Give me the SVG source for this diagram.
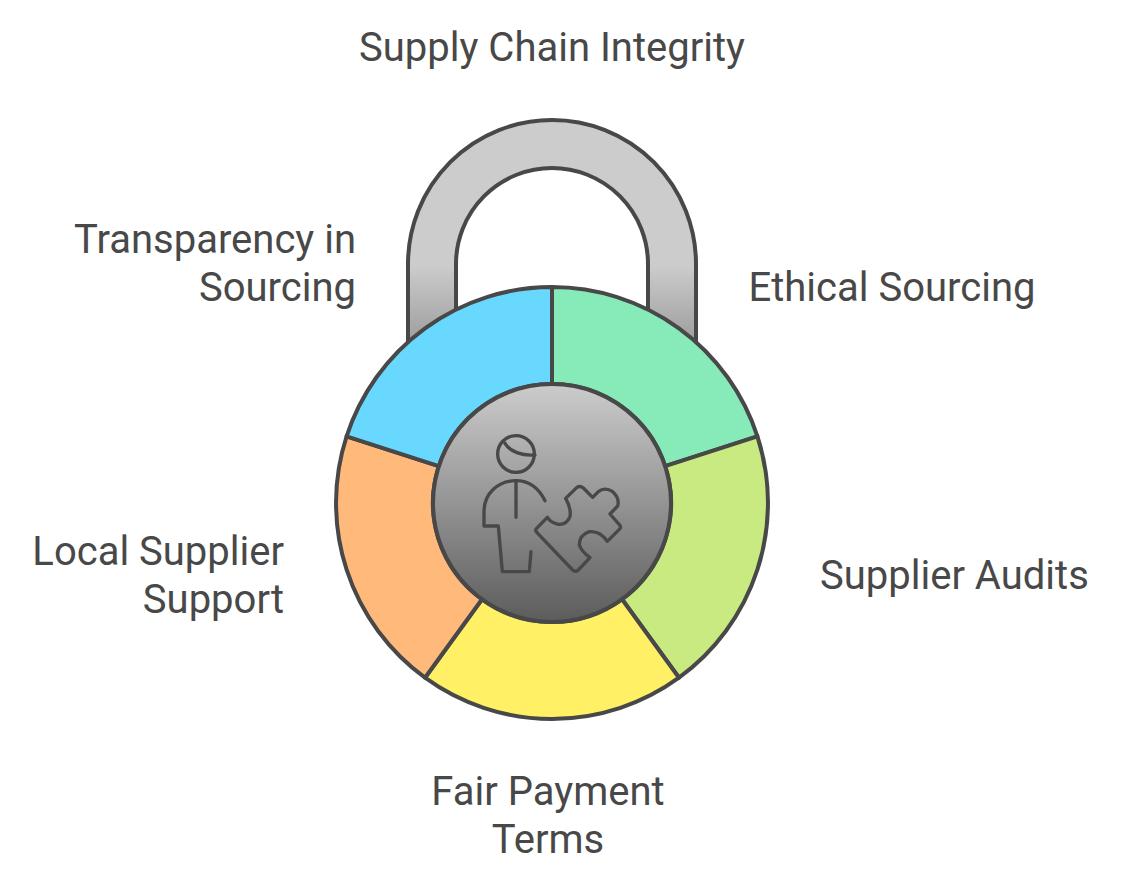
<svg xmlns="http://www.w3.org/2000/svg" width="1128" height="889" viewBox="0 0 1128 889">
<style>
.o{stroke:#484848;stroke-width:4;stroke-linejoin:round;stroke-linecap:round}
.t{font-family:Roboto,"Liberation Sans",sans-serif;font-size:40px;fill:#484848}
.i{fill:none;stroke:#484848;stroke-width:10;stroke-linejoin:round;stroke-linecap:round}
</style>
<defs>
<linearGradient id="sh" gradientUnits="userSpaceOnUse" x1="0" y1="120" x2="0" y2="350"><stop offset="0" stop-color="#cccccc"/><stop offset="0.63" stop-color="#cccccc"/><stop offset="1" stop-color="#999999"/></linearGradient>
<linearGradient id="hub" gradientUnits="userSpaceOnUse" x1="0" y1="384" x2="0" y2="622"><stop offset="0" stop-color="#cccccc"/><stop offset="1" stop-color="#5c5c5c"/></linearGradient>
</defs>
<g id="shackle"><path class="o" fill="url(#sh)" d="M408 345V264A144 144 0 0 1 696 264V345L648 320V264A96 96 0 0 0 456 264V320Z"/></g>
<g id="segment-ethical"><path class="o" fill="#87ebb9" d="M552 287A216 216 0 0 1 757.4 436.3L665.2 466.2A119 119 0 0 0 552 384Z"/></g>
<g id="segment-audits"><path class="o" fill="#c9e981" d="M757.4 436.3A216 216 0 0 1 679 677.7L622 599.3A119 119 0 0 0 665.2 466.2Z"/></g>
<g id="segment-payment"><path class="o" fill="#fff066" d="M679 677.7A216 216 0 0 1 425 677.7L482 599.3A119 119 0 0 0 622 599.3Z"/></g>
<g id="segment-local"><path class="o" fill="#ffb97a" d="M425 677.7A216 216 0 0 1 346.6 436.3L438.8 466.2A119 119 0 0 0 482 599.3Z"/></g>
<g id="segment-transparency"><path class="o" fill="#69d8ff" d="M346.6 436.3A216 216 0 0 1 552 287V384A119 119 0 0 0 438.8 466.2Z"/></g>
<g id="hub-node"><circle class="o" fill="url(#hub)" cx="552" cy="503" r="119"/>
<g transform="translate(430 380) scale(.3333)" class="i">
<circle cx="258" cy="222" r="55"/>
<path d="M225 190C240 215 275 228 315 225"/>
<path d="M345 362C325 322 295 302 258 302C205 302 162 340 162 395V438H205L217 575H298L303 515"/>
<path d="M258 302V412"/>
<path d="M320 445L352 412Q362 428 385 433Q410 435 420 410Q424 385 407 355L440 323Q450 316 460 324L488 352L505 335Q525 320 548 335Q570 355 563 378L540 402L570 436Q574 442 568 448L532 484Q510 452 478 455Q448 465 448 495Q455 515 480 533L445 570Q437 578 428 570L321 458Q314 451 320 445Z"/>
</g></g>
<g id="label-title"><text class="t" x="552" y="61" text-anchor="middle">Supply Chain Integrity</text></g>
<g id="label-transparency"><text class="t" x="356" y="253" text-anchor="end">Transparency in</text><text class="t" x="356" y="301" text-anchor="end">Sourcing</text></g>
<g id="label-ethical"><text class="t" x="748.5" y="301">Ethical Sourcing</text></g>
<g id="label-audits"><text class="t" x="820" y="589">Supplier Audits</text></g>
<g id="label-local"><text class="t" x="284" y="565" text-anchor="end">Local Supplier</text><text class="t" x="284" y="613" text-anchor="end">Support</text></g>
<g id="label-payment"><text class="t" x="548" y="805" text-anchor="middle">Fair Payment</text><text class="t" x="548" y="853" text-anchor="middle">Terms</text></g>
</svg>
